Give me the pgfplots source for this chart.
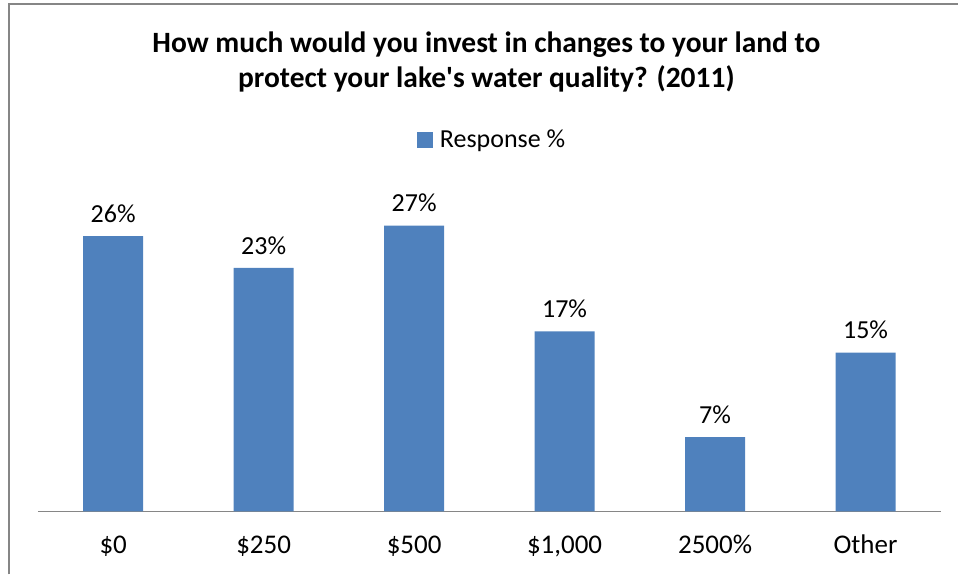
\documentclass[border=0pt]{standalone}
\usepackage{fontspec}
\setmainfont{Carlito}
\usepackage{pgfplots}
\pgfplotsset{compat=1.18}
\definecolor{barblue}{RGB}{79,129,189}
\definecolor{framegrey}{RGB}{134,134,134}
\definecolor{axisgrey}{RGB}{134,134,134}

\begin{document}
\begin{tikzpicture}[x=1pt,y=1pt]
% page frame (reference is cropped on right and bottom)
\path (0,0) rectangle (959,-575);
\draw[framegrey, line width=2.5pt] (9,-575) -- (9,-4) -- (959,-4);
\node[font=\fontsize{29.5}{35}\selectfont\bfseries, align=center] at (487,-62)
  {How much would you invest in changes to your land to\\protect your lake\textquotesingle s water quality? (2011)};
\begin{axis}[
  at={(38pt,-512pt)}, anchor=south west,
  scale only axis, width=904pt, height=318pt,
  xmin=-0.5, xmax=5.5, ymin=0, ymax=30,
  axis x line*=bottom, axis y line=none,
  x axis line style={axisgrey, line width=1.2pt},
  xtick=data, xtick style={draw=none},
  xticklabels={\$0,\$250,\$500,{\$1,000},2500\%,Other},
  xticklabel style={font=\fontsize{27}{32}\selectfont, anchor=base, yshift=-38pt},
  /pgf/number format/assume math mode=true,
  ybar, bar width=60pt,
  clip=false,
  nodes near coords={\pgfmathprintnumber{\pgfplotspointmeta}\%},
  every node near coord/.append style={font=\fontsize{26}{31}\selectfont, yshift=10pt},
  legend style={at={(0.503,1.17)}, anchor=center, draw=none, fill=none,
                font=\fontsize{26}{31}\selectfont,
                /tikz/every even column/.append style={column sep=0pt}},
  legend image code/.code={\fill[barblue] (0pt,-8pt) rectangle (16pt,8pt);},
  legend cell align=left,
]
\addplot[fill=barblue, draw=none] coordinates {(0,26) (1,23) (2,27) (3,17) (4,7) (5,15)};
\legend{\hspace{5pt}Response \%}
\end{axis}
\end{tikzpicture}
\end{document}
